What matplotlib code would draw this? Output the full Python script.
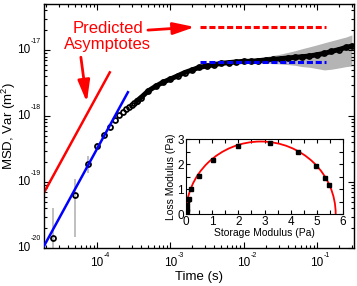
import matplotlib
matplotlib.use("Agg")
import matplotlib.pyplot as plt
from matplotlib.patches import Arc
from matplotlib.ticker import LogLocator, NullFormatter, MultipleLocator
from matplotlib.transforms import offset_copy

plt.rcParams["font.family"] = ["Liberation Sans", "DejaVu Sans"]
plt.rcParams["mathtext.fontset"] = "custom"
plt.rcParams["mathtext.rm"] = "Liberation Sans"
plt.rcParams["mathtext.default"] = "regular"

# MSD: early (individually visible) samples, 2.5e-5 s spacing
t_early = [2.5e-5, 5.0e-5, 7.5e-5, 1.0e-4, 1.25e-4, 1.5e-4, 1.75e-4,
           2.0e-4, 2.25e-4, 2.5e-4, 2.75e-4, 3.0e-4, 3.25e-4, 3.5e-4]
msd_early = [1.41e-20, 6.3e-20, 1.9e-19, 3.47e-19, 5.1e-19, 6.9e-19, 8.7e-19,
             1.05e-18, 1.17e-18, 1.26e-18, 1.38e-18, 1.48e-18, 1.58e-18, 1.70e-18]

# MSD: dense part of the curve
t_dense = [3.5e-4, 4.0e-4, 5.0e-4, 6.3e-4, 7.9e-4, 1.0e-3, 1.26e-3, 1.58e-3,
           2.0e-3, 2.5e-3, 3.2e-3, 4.0e-3, 5.0e-3, 6.3e-3, 7.9e-3, 1.0e-2,
           1.26e-2, 1.58e-2, 2.0e-2, 2.5e-2, 3.2e-2, 4.0e-2, 5.0e-2, 6.3e-2,
           7.9e-2, 0.1, 0.126, 0.158, 0.2, 0.25, 0.30]
msd_dense = [1.70e-18, 1.91e-18, 2.40e-18, 2.82e-18, 3.24e-18, 3.63e-18, 4.07e-18,
             4.57e-18, 5.01e-18, 5.50e-18, 5.75e-18, 6.03e-18, 6.31e-18, 6.46e-18,
             6.61e-18, 6.76e-18, 6.76e-18, 6.92e-18, 7.08e-18, 7.24e-18, 7.41e-18,
             7.59e-18, 7.76e-18, 7.94e-18, 8.13e-18, 8.51e-18, 8.91e-18, 9.55e-18,
             1.02e-17, 1.10e-17, 1.15e-17]

# variance band (grey) at long times
t_band = [0.01, 0.02, 0.032, 0.05, 0.063, 0.079, 0.1, 0.126, 0.158, 0.2, 0.25, 0.30]
band_hi = [7.0e-18, 7.94e-18, 8.71e-18, 9.77e-18, 1.05e-17, 1.12e-17, 1.20e-17,
           1.29e-17, 1.38e-17, 1.48e-17, 1.58e-17, 1.70e-17]
band_lo = [6.5e-18, 6.31e-18, 6.17e-18, 5.89e-18, 5.62e-18, 5.50e-18, 5.25e-18,
           5.01e-18, 5.13e-18, 5.37e-18, 5.62e-18, 5.75e-18]

# variance bars at the first samples
t_bar = [2.5e-5, 5.0e-5, 7.5e-5, 1.0e-4]
bar_lo = [9.0e-21, 1.48e-20, 1.38e-19, 3.1e-19]
bar_hi = [4.07e-20, 1.12e-19, 2.5e-19, 3.9e-19]

# predicted asymptotes
red_short_t = [1.9e-5, 1.5e-4]
red_short_msd = [6.9e-20, 4.6e-18]
blue_short_t = [1.9e-5, 2.65e-4]
blue_short_msd = [1.07e-20, 2.3e-18]
plateau_t = [2.54e-3, 0.133]
red_plateau = 2.24e-17
blue_plateau = 6.7e-18

# tick decades
x_decades = [-4, -3, -2, -1]
y_decades = [-20, -19, -18, -17]

# inset: storage vs loss modulus
g_storage = [0.005, 0.01, 0.02, 0.03, 0.05, 0.1, 0.2, 0.48, 1.02, 2.0, 3.22,
             4.28, 4.97, 5.33, 5.45]
g_loss = [0.03, 0.08, 0.14, 0.21, 0.37, 0.62, 1.02, 1.54, 2.17, 2.74, 2.86,
          2.47, 1.92, 1.46, 1.16]
arc_center = 2.86
arc_w = 5.72
arc_h = 5.8

RED = "#FF0000"
BLUE = "#0000FF"
GREY = "#B4B4B4"
TICK_FS = 8.5
EXP_FS = 5.0

fig = plt.figure(figsize=(3.57, 2.86), dpi=100)
ax = fig.add_axes([0.1232, 0.1329, 0.8683, 0.8531])

ax.fill_between(t_band, band_lo, band_hi, color=GREY, lw=0, zorder=1)
ax.vlines(t_bar, bar_lo, bar_hi, color=GREY, lw=1.2, zorder=1)

ax.plot(red_short_t, red_short_msd, color=RED, lw=1.8, zorder=2)
ax.plot(blue_short_t, blue_short_msd, color=BLUE, lw=1.8, zorder=4)

ax.plot(t_dense, msd_dense, "-", color="k", lw=3.6, zorder=3,
        solid_capstyle="round")
ax.plot(t_early + t_dense, msd_early + msd_dense, "o", color="k", ms=3.6,
        mfc="none", mew=1.3, zorder=3)

ax.plot(plateau_t, [red_plateau, red_plateau], color=RED, lw=2.2,
        ls=(0, (2, 0.9)), zorder=5)
ax.plot(plateau_t, [blue_plateau, blue_plateau], color=BLUE, lw=2.2,
        ls=(0, (2, 0.9)), zorder=5)

ax.set_xscale("log")
ax.set_yscale("log")
ax.set_xlim(1.9e-5, 0.32)
ax.set_ylim(1e-20, 5e-17)
ax.xaxis.set_major_locator(LogLocator(base=10, numticks=10))
ax.yaxis.set_major_locator(LogLocator(base=10, numticks=10))
ax.xaxis.set_major_formatter(NullFormatter())
ax.yaxis.set_major_formatter(NullFormatter())
ax.xaxis.set_minor_formatter(NullFormatter())
ax.yaxis.set_minor_formatter(NullFormatter())
ax.tick_params(which="both", direction="in", top=True, right=True, width=0.8)
ax.tick_params(which="major", length=4)
ax.tick_params(which="minor", length=2)
for s in ax.spines.values():
    s.set_linewidth(1.0)

# MATLAB-style decade labels: "10" with a small raised exponent
xt = ax.get_xaxis_transform()
for d in x_decades:
    ax.text(10.0 ** d, 0, "10", fontsize=TICK_FS, ha="center", va="center",
            transform=offset_copy(xt, fig, x=0, y=-15, units="dots"))
    ax.text(10.0 ** d, 0, f"-{abs(d)}", fontsize=EXP_FS, ha="left", va="center",
            transform=offset_copy(xt, fig, x=7, y=-8, units="dots"))
yt = ax.get_yaxis_transform()
for d in y_decades:
    ax.text(0, 10.0 ** d, "10", fontsize=TICK_FS, ha="right", va="center",
            transform=offset_copy(yt, fig, x=-14, y=0, units="dots"))
    ax.text(0, 10.0 ** d, f"-{abs(d)}", fontsize=EXP_FS, ha="left", va="center",
            transform=offset_copy(yt, fig, x=-13, y=9, units="dots"))

ax.set_xlabel("Time (s)", fontsize=9.5)
ax.xaxis.set_label_coords(0.5, -29 / 244)
ax.xaxis.label.set_va("center")
ax.set_ylabel("MSD, Var (m$^2$)", fontsize=9.5)
ax.yaxis.set_label_coords(-35 / 310, 0.5)
ax.yaxis.label.set_va("center")

ax.text(1.41e-4, 1.63e-17, "Predicted\nAsymptotes", color=RED, fontsize=12,
        ha="center", va="center", linespacing=1.1)
arrow = dict(arrowstyle="-|>,head_length=1.3,head_width=0.36", color=RED,
             lw=2.0, mutation_scale=10, shrinkA=0, shrinkB=0)
ax.annotate("", xy=(2.17e-3, 2.24e-17), xytext=(4.97e-4, 2.01e-17),
            arrowprops=arrow)
ax.annotate("", xy=(7.3e-5, 1.62e-18), xytext=(6.05e-5, 7.8e-18),
            arrowprops=arrow)

# inset
ins = fig.add_axes([0.521, 0.2517, 0.4398, 0.2622])
ins.add_patch(Arc((arc_center, 0), arc_w, arc_h, theta1=0, theta2=180,
                  color=RED, lw=1.3, zorder=2))
ins.plot(g_storage, g_loss, "s", color="k", ms=2.6, zorder=3)
ins.set_xlim(0, 6)
ins.set_ylim(0, 3)
ins.xaxis.set_major_locator(MultipleLocator(1))
ins.yaxis.set_major_locator(MultipleLocator(1))
ins.xaxis.set_minor_locator(MultipleLocator(0.5))
ins.yaxis.set_minor_locator(MultipleLocator(0.5))
ins.tick_params(which="both", direction="in", top=True, right=True,
                labelsize=8.5, width=0.8, pad=1.5)
ins.tick_params(which="major", length=3)
ins.tick_params(which="minor", length=3)
ins.set_xlabel("Storage Modulus (Pa)", fontsize=7.5, labelpad=0)
ins.set_ylabel("Loss Modulus (Pa)", fontsize=7.5, labelpad=1)

fig.savefig("out.png", dpi=100)
